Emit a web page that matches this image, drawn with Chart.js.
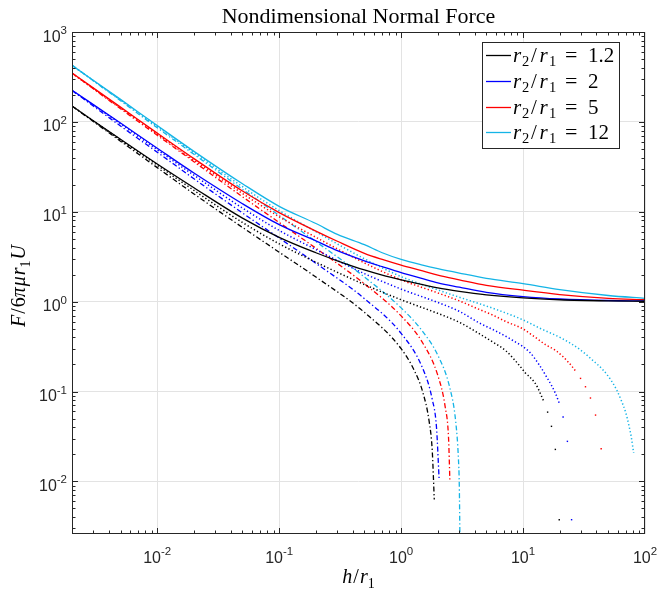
<!DOCTYPE html>
<html><head><meta charset="utf-8">
<script src="https://cdn.jsdelivr.net/npm/chart.js@4.4.0/dist/chart.umd.min.js"></script>
<style>html,body{margin:0;padding:0;background:#fff}#wrap{width:658px;height:591px}</style>
</head><body><div id="wrap"><canvas id="c" width="658" height="591"></canvas></div>
<script>
// ---------- data ----------
const chartTitle = 'Nondimensional Normal Force';
const ratioLabels = ['1.2', '2', '5', '12'];
const xMajorTicks = [0.01, 0.1, 1, 10, 100];
const yMajorTicks = [0.01, 0.1, 1, 10, 100, 1000];

// solid curves
const hSolid = [0.002,0.005,0.01,0.02,0.05,0.1,0.2,0.3,0.5,0.7,1,1.5,2,3,5,10,20,50,100];
const solidA = [150,64,34,18.5,8.5,5.2,3.5,2.85,2.25,1.97,1.75,1.55,1.42,1.3,1.19,1.1,1.05,1.02,1.01];
const solidB = [225,97,51,27,12.3,7.2,4.75,3.7,2.85,2.45,2.1,1.8,1.62,1.45,1.27,1.14,1.07,1.03,1.02];
const solidC = [350,146,75,39,17,9.8,6.1,4.7,3.45,2.95,2.55,2.2,1.97,1.75,1.52,1.34,1.2,1.09,1.05];
const solidD = [425,178,91,47,20.5,11.5,7.4,5.6,4.3,3.5,2.95,2.55,2.33,2.08,1.82,1.59,1.36,1.17,1.09];

// dash-dot curves
const hDashA = [0.002,0.005,0.01,0.02,0.05,0.1,0.2,0.5,1,1.3,1.5,1.7,1.8,1.87];
const dashA  = [150,61,31,15.8,6.7,3.55,1.88,0.76,0.30,0.165,0.1,0.046,0.022,0.0063];
const hDashB = [0.002,0.005,0.01,0.02,0.05,0.1,0.2,0.5,1,1.5,1.8,1.95,2.05];
const dashB  = [224,90,46,23.3,9.7,5.1,2.67,1.08,0.444,0.182,0.082,0.04,0.0105];
const hDashC = [0.002,0.005,0.01,0.02,0.05,0.1,0.2,0.5,1,1.5,2,2.3,2.45,2.51];
const dashC  = [349,140,71,36,14.7,7.6,3.93,1.58,0.694,0.349,0.151,0.067,0.030,0.0104];
const hDashD = [0.002,0.005,0.01,0.02,0.05,0.1,0.2,0.5,1,1.5,2,2.5,2.8,2.95,3.0,3.04];
const dashD  = [428,172,86,43.6,17.8,9.1,4.66,1.88,0.852,0.467,0.253,0.112,0.047,0.018,0.009,0.002];

// dotted curves (dense part) and their sparse tails
const hDotA = [0.002,0.005,0.01,0.02,0.05,0.1,0.2,0.5,1,2,3,4.37,5.63,7.25,9.45,10.4,11.4,12.4,13.2,13.95,14.9];
const dotA  = [150,63,33,17.3,7.6,4.4,2.75,1.55,1.05,0.74,0.59,0.44,0.356,0.283,0.191,0.162,0.144,0.127,0.11,0.093,0.076];
const hTailA = [15.9,17.1,18.4,19.8];
const tailA  = [0.059,0.041,0.0227,0.00375];
const hDotB = [0.002,0.005,0.01,0.02,0.05,0.1,0.2,0.5,1,2,3,4.37,6,8.2,11.3,13.5,15.9,17.1,18.4,19.8];
const dotB  = [224,95,49,25.5,11,6.2,3.8,2.05,1.38,0.98,0.78,0.58,0.47,0.372,0.275,0.2,0.139,0.117,0.096,0.0745];
const hTailB = [21.3,23.1,25.0];
const tailB  = [0.052,0.0279,0.00375];
const hDotC = [0.002,0.005,0.01,0.02,0.05,0.1,0.2,0.5,1,2,3,4.37,5.63,7.25,9.9,12,15.4,18.6,21.2,23,24.9,27];
const dotC  = [347,143,73,37.5,16,8.8,5.2,2.7,1.75,1.25,1.02,0.82,0.71,0.6,0.5,0.42,0.33,0.285,0.245,0.219,0.194,0.169];
const hTailC = [29.6,32.5,35.7,39.3,43.7];
const tailC  = [0.140,0.113,0.0847,0.0547,0.0231];
const hDotD = [0.002,0.005,0.01,0.02,0.05,0.1,0.2,0.5,1,2,3,4.37,6,9.9,14,20.5,29.3,37.3,45.1,52.8,58.8,63.8,69.3,73.8,77.2,80.7];
const dotD  = [425,175,89,45.5,19,10.3,6,3.0,1.9,1.35,1.12,0.95,0.82,0.63,0.5,0.394,0.293,0.222,0.175,0.133,0.103,0.0798,0.0591,0.042,0.0311,0.0207];
const hTailD = [];
const tailD  = [];

// ---------- styling ----------
const colors = ['#000000', '#0000ff', '#ff0000', '#14b4e6'];
const pts = (hs, vs) => hs.map((h, i) => ({x: h, y: vs[i]}));

const groups = [
  [hSolid, solidA, hDashA, dashA, hDotA, dotA, hTailA, tailA],
  [hSolid, solidB, hDashB, dashB, hDotB, dotB, hTailB, tailB],
  [hSolid, solidC, hDashC, dashC, hDotC, dotC, hTailC, tailC],
  [hSolid, solidD, hDashD, dashD, hDotD, dotD, hTailD, tailD]
];

const datasets = [];
groups.forEach((g, i) => {
  const c = colors[i];
  datasets.push({label: 'r2/r1 = ' + ratioLabels[i], data: pts(g[0], g[1]), showLine: true,
    borderColor: c, borderWidth: 1.3, pointRadius: 0, cubicInterpolationMode: 'monotone'});
  datasets.push({label: 'dotted ' + ratioLabels[i], data: pts(g[4], g[5]), showLine: true,
    borderColor: c, borderWidth: 1.5, borderDash: [1.3, 2.3], pointRadius: 0, cubicInterpolationMode: 'monotone'});
  datasets.push({label: 'tail ' + ratioLabels[i], data: pts(g[6], g[7]), showLine: false,
    backgroundColor: c, borderWidth: 0, pointRadius: 1, pointStyle: 'rect'});
  datasets.push({label: 'dashdot ' + ratioLabels[i], data: pts(g[2], g[3]), showLine: true,
    borderColor: c, borderWidth: 1.3, borderDash: [5, 2.5, 1.3, 2.5], pointRadius: 0, cubicInterpolationMode: 'monotone'});
});

const AX = '#262626';
const SERIF = "'Liberation Serif', 'Times New Roman', serif";
const SANS = "'Liberation Sans', Arial, sans-serif";

function setF(ctx, r, size) {
  const s = r.sub ? size * 0.7 : (r.size || size);
  ctx.font = (r.it ? 'italic ' : '') + s + 'px ' + SERIF;
}
function drawRuns(ctx, runs, x, y, size) {
  let cx = x;
  for (const r of runs) {
    setF(ctx, r, size);
    const dy = r.sub ? size * 0.25 : 0;
    cx += (r.pre || 0);
    ctx.fillText(r.t, cx, y + dy);
    cx += ctx.measureText(r.t).width + (r.post || 0);
  }
  return cx - x;
}
function runsWidth(ctx, runs, size) {
  let w = 0;
  for (const r of runs) {
    setF(ctx, r, size);
    w += (r.pre || 0) + ctx.measureText(r.t).width + (r.post || 0);
  }
  return w;
}

const axesPlugin = {
  id: 'matlabAxes',
  afterDatasetsDraw(chart) {
    const {ctx, chartArea: a, scales: {x, y}} = chart;
    ctx.save();
    ctx.setLineDash([]);
    // frame
    ctx.strokeStyle = AX; ctx.lineWidth = 1;
    ctx.strokeRect(a.left + 0.5, a.top + 0.5, a.right - a.left - 1, a.bottom - a.top - 1);
    // ticks (inward, all sides)
    ctx.beginPath();
    for (const d of [-3, -2, -1, 0, 1, 2]) for (let m = 1; m <= 9; m++) {
      const v = m * Math.pow(10, d);
      if (v < x.min * 0.999 || v > x.max * 1.001) continue;
      const px = Math.min(Math.round(x.getPixelForValue(v)), a.right - 1) + 0.5;
      const L = m === 1 ? 6 : 3.5;
      ctx.moveTo(px, a.bottom); ctx.lineTo(px, a.bottom - L);
      ctx.moveTo(px, a.top); ctx.lineTo(px, a.top + L);
    }
    for (const d of [-3, -2, -1, 0, 1, 2, 3]) for (let m = 1; m <= 9; m++) {
      const v = m * Math.pow(10, d);
      if (v < y.min * 0.999 || v > y.max * 1.001) continue;
      const py = Math.max(Math.round(y.getPixelForValue(v)), a.top) + 0.5;
      const L = m === 1 ? 6 : 3.5;
      ctx.moveTo(a.left, py); ctx.lineTo(a.left + L, py);
      ctx.moveTo(a.right, py); ctx.lineTo(a.right - L, py);
    }
    ctx.stroke();

    // tick labels
    ctx.fillStyle = AX;
    ctx.textBaseline = 'alphabetic';
    const bs = 16, es = 11.5;
    for (const v of xMajorTicks) {
      const base = '10', exp = String(Math.round(Math.log10(v)));
      ctx.font = bs + 'px ' + SANS; const wb = ctx.measureText(base).width;
      ctx.font = es + 'px ' + SANS; const we = ctx.measureText(exp).width;
      const px = x.getPixelForValue(v);
      const sx = px - (wb + we) / 2;
      ctx.font = bs + 'px ' + SANS; ctx.fillText(base, sx, a.bottom + 29);
      ctx.font = es + 'px ' + SANS; ctx.fillText(exp, sx + wb, a.bottom + 21);
    }
    for (const v of yMajorTicks) {
      const base = '10', exp = String(Math.round(Math.log10(v)));
      ctx.font = bs + 'px ' + SANS; const wb = ctx.measureText(base).width;
      ctx.font = es + 'px ' + SANS; const we = ctx.measureText(exp).width;
      const py = y.getPixelForValue(v);
      const ex = a.left - 5;
      ctx.font = es + 'px ' + SANS; ctx.fillText(exp, ex - we, py + 2);
      ctx.font = bs + 'px ' + SANS; ctx.fillText(base, ex - we - wb, py + 9.5);
    }

    // title
    ctx.fillStyle = '#000';
    ctx.font = '22px ' + SERIF;
    ctx.textAlign = 'center';
    ctx.fillText(chartTitle, (a.left + a.right) / 2, 23);
    ctx.textAlign = 'left';

    // axis titles
    const xr = [{t: 'h', it: true}, {t: '/', pre: 1, post: 1}, {t: 'r', it: true}, {t: '1', sub: true}];
    const xw = runsWidth(ctx, xr, 20);
    drawRuns(ctx, xr, (a.left + a.right) / 2 - xw / 2, 583, 20);
    const yr = [{t: 'F', it: true}, {t: '/', pre: 1, post: 1}, {t: '6'}, {t: 'π', it: true, post: 1}, {t: 'μ', it: true, post: 1}, {t: 'r', it: true}, {t: '1', sub: true, post: 1}, {t: 'U', it: true}];
    const yw = runsWidth(ctx, yr, 20);
    ctx.save();
    ctx.translate(25, 286);
    ctx.rotate(-Math.PI / 2);
    drawRuns(ctx, yr, -yw / 2, 0, 20);
    ctx.restore();

    // legend
    const lx = 482, ly = 42, lw = 137, lh = 106;
    ctx.fillStyle = '#fff';
    ctx.fillRect(lx, ly, lw, lh);
    ctx.strokeStyle = AX; ctx.lineWidth = 1;
    ctx.strokeRect(lx + 0.5, ly + 0.5, lw, lh);
    const rows = [55, 81, 107, 132];
    rows.forEach((ry, i) => {
      ctx.strokeStyle = colors[i]; ctx.lineWidth = 1.3;
      ctx.beginPath(); ctx.moveTo(486, ry + 0.5); ctx.lineTo(511, ry + 0.5); ctx.stroke();
      ctx.fillStyle = '#000';
      const b = ry + 6.5;
      ctx.font = 'italic 21px ' + SERIF; ctx.fillText('r', 513, b);
      ctx.font = '14.5px ' + SERIF; ctx.fillText('2', 522, b + 4.5);
      ctx.font = '21px ' + SERIF; ctx.fillText('/', 531, b);
      ctx.font = 'italic 21px ' + SERIF; ctx.fillText('r', 539.5, b);
      ctx.font = '14.5px ' + SERIF; ctx.fillText('1', 549, b + 4.5);
      ctx.font = '22px ' + SERIF; ctx.fillText('=', 565, b);
      ctx.font = '21px ' + SERIF; ctx.fillText(ratioLabels[i], 588, b);
    });
    ctx.restore();
  }
};

new Chart(document.getElementById('c'), {
  type: 'scatter',
  data: {datasets},
  options: {
    responsive: false,
    animation: false,
    devicePixelRatio: 1,
    layout: {padding: {top: 32, right: 13, left: 0, bottom: 0}},
    plugins: {
      legend: {display: false},
      tooltip: {enabled: false},
      title: {display: false}
    },
    scales: {
      x: {type: 'logarithmic', min: 0.002, max: 100, position: 'bottom',
        afterBuildTicks: s => { s.ticks = xMajorTicks.map(v => ({value: v})); },
        afterFit: s => { s.height = 57; },
        ticks: {display: false},
        grid: {color: '#e3e3e3', lineWidth: 1, drawTicks: false},
        border: {display: false}},
      y: {type: 'logarithmic', min: 0.0026, max: 1000, position: 'left',
        afterBuildTicks: s => { s.ticks = yMajorTicks.map(v => ({value: v})); },
        afterFit: s => { s.width = 72; },
        ticks: {display: false},
        grid: {color: '#e3e3e3', lineWidth: 1, drawTicks: false},
        border: {display: false}}
    }
  },
  plugins: [axesPlugin]
});
</script>
</body></html>
